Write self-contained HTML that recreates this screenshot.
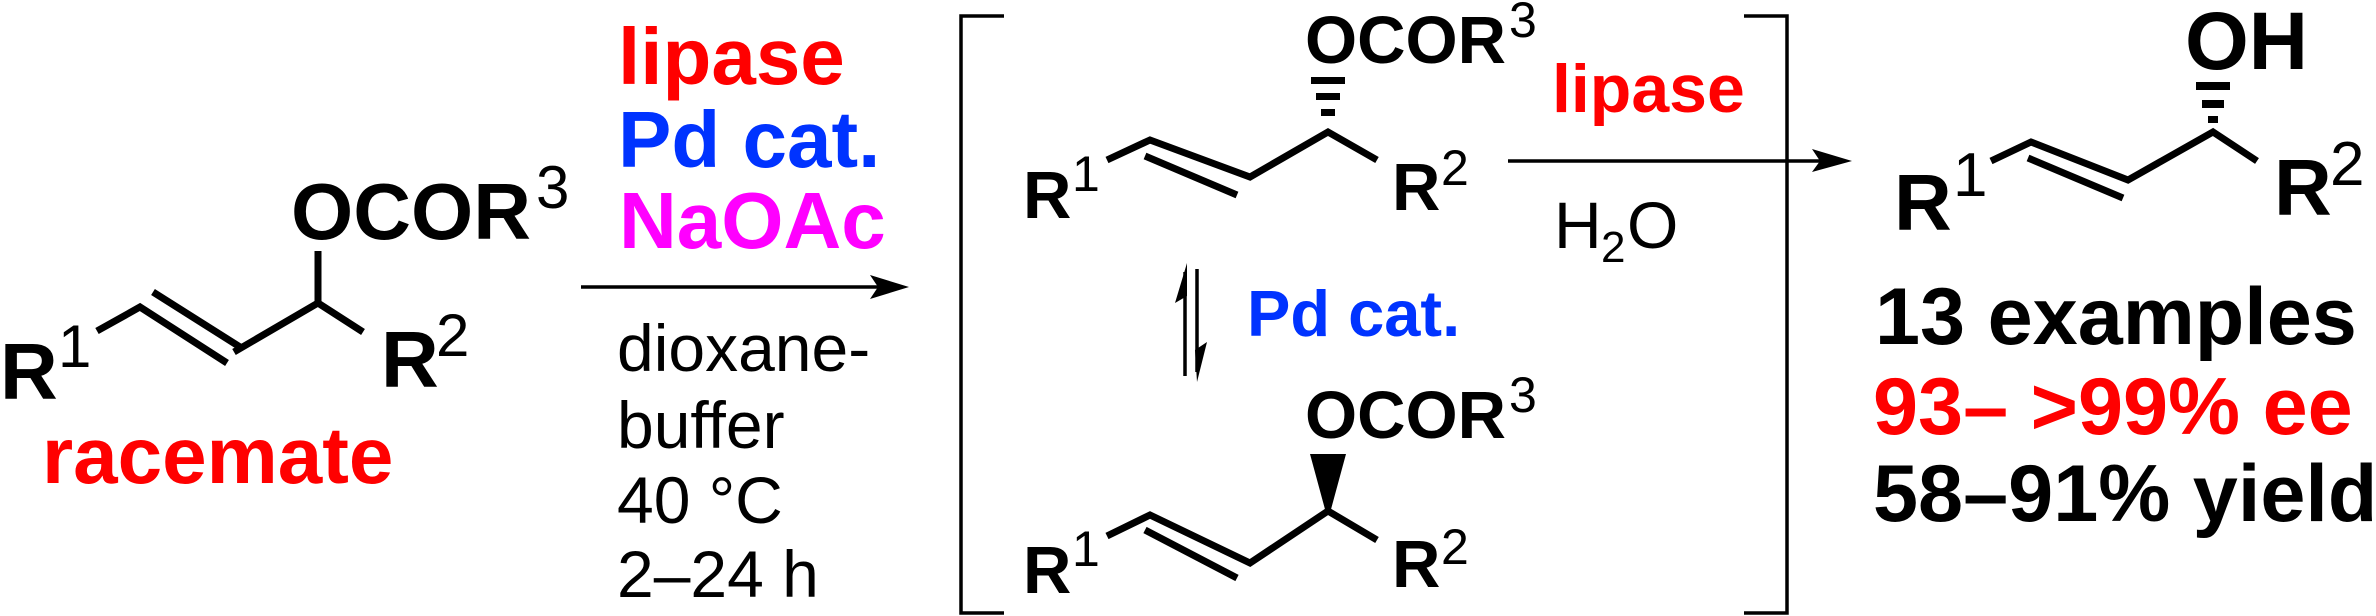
<!DOCTYPE html>
<html><head><meta charset="utf-8"><style>
html,body{margin:0;padding:0;background:#fff;}
svg{display:block;}
text{font-family:"Liberation Sans",Arial,sans-serif;}
.b{font-weight:bold;}
</style></head><body>
<svg width="2376" height="616" viewBox="0 0 2376 616" xmlns="http://www.w3.org/2000/svg">
<g stroke="#000" stroke-width="7" fill="none" stroke-linecap="butt">
<!-- left molecule -->
<polyline points="97,331 140,307 227,363"/>
<line x1="153" y1="292" x2="240" y2="347"/>
<polyline points="234,352 318,303 363,332"/>
<line x1="318" y1="303" x2="318" y2="251"/>
<!-- top middle -->
<polyline points="1107,160 1150,140 1250,177 1328,132 1377,160"/>
<line x1="1145" y1="156" x2="1237" y2="195"/>
<!-- bottom middle -->
<polyline points="1107,536 1150,515 1250,563 1328,511 1377,540"/>
<line x1="1145" y1="530" x2="1237" y2="578"/>
<!-- right product -->
<polyline points="1991,161 2031,142 2128,180 2213,132 2257,161"/>
<line x1="2028" y1="158" x2="2123" y2="198"/>
</g>
<!-- hashed wedges -->
<g fill="#000">
<rect x="1311" y="77" width="34" height="7"/>
<rect x="1316" y="93" width="24" height="7"/>
<rect x="1321" y="109" width="14" height="7"/>
<rect x="2196" y="82" width="34" height="8"/>
<rect x="2202" y="100" width="22" height="8"/>
<rect x="2208" y="116" width="10" height="7"/>
<polygon points="1310,454 1346,454 1330,513 1326,513"/>
</g>
<!-- brackets -->
<g stroke="#000" stroke-width="3.5" fill="none">
<polyline points="1004,16 961,16 961,613 1004,613"/>
<polyline points="1744,16 1787,16 1787,613 1744,613"/>
</g>
<!-- arrows -->
<g stroke="#000" stroke-width="3.5">
<line x1="581" y1="287" x2="890" y2="287"/>
<line x1="1508" y1="161" x2="1835" y2="161"/>
<line x1="1185" y1="272" x2="1185" y2="376"/>
<line x1="1197" y1="269" x2="1197" y2="372"/>
</g>
<g fill="#000">
<polygon points="909,287 870,275 878,287 870,299"/>
<polygon points="1852,161 1812,149 1820,161 1812,172"/>
<polygon points="1187,263 1175,303 1187,296"/>
<polygon points="1197,382 1207,342 1195,350"/>
</g>
<!-- left labels -->
<text class="b" x="0" y="399" font-size="80">R</text>
<text x="58" y="367" font-size="60">1</text>
<text class="b" x="291" y="239" font-size="80">OCOR</text>
<text x="536" y="208" font-size="60">3</text>
<text class="b" x="381" y="387" font-size="80">R</text>
<text x="436" y="356" font-size="60">2</text>
<text class="b" x="42" y="483" font-size="80" fill="#ff0000">racemate</text>
<text class="b" x="618" y="84" font-size="80" fill="#ff0000">lipase</text>
<text class="b" x="618" y="167" font-size="80" fill="#0033ff">Pd cat.</text>
<text class="b" x="619" y="248" font-size="80" fill="#ff00ff">NaOAc</text>
<text x="617" y="371" font-size="66">dioxane-</text>
<text x="617" y="448" font-size="66">buffer</text>
<text x="617" y="523" font-size="66">40 °C</text>
<text x="617" y="597" font-size="66">2–24 h</text>
<!-- middle labels -->
<text class="b" x="1305" y="63" font-size="67">OCOR</text>
<text x="1509" y="37" font-size="50">3</text>
<text class="b" x="1023" y="218" font-size="67">R</text>
<text x="1072" y="191" font-size="50">1</text>
<text class="b" x="1392" y="210" font-size="67">R</text>
<text x="1441" y="185" font-size="50">2</text>
<text class="b" x="1552" y="112" font-size="68" fill="#ff0000">lipase</text>
<text x="1554" y="248" font-size="66">H</text>
<text x="1601" y="262" font-size="44">2</text>
<text x="1627" y="248" font-size="66">O</text>
<text class="b" x="1247" y="336" font-size="65" fill="#0033ff">Pd cat.</text>
<text class="b" x="1305" y="438" font-size="67">OCOR</text>
<text x="1509" y="412" font-size="50">3</text>
<text class="b" x="1023" y="593" font-size="67">R</text>
<text x="1072" y="566" font-size="50">1</text>
<text class="b" x="1392" y="587" font-size="67">R</text>
<text x="1441" y="564" font-size="50">2</text>
<!-- right labels -->
<text class="b" x="2185" y="69" font-size="82">OH</text>
<text class="b" x="1894" y="230" font-size="80">R</text>
<text x="1953" y="196" font-size="62">1</text>
<text class="b" x="2274" y="215" font-size="80">R</text>
<text x="2330" y="185" font-size="62">2</text>
<text class="b" x="1875" y="344" font-size="81">13 examples</text>
<text class="b" x="1873" y="434" font-size="81" fill="#ff0000">93– &gt;99% ee</text>
<text class="b" x="1873" y="521" font-size="81">58–91% yield</text>
</svg>
</body></html>
